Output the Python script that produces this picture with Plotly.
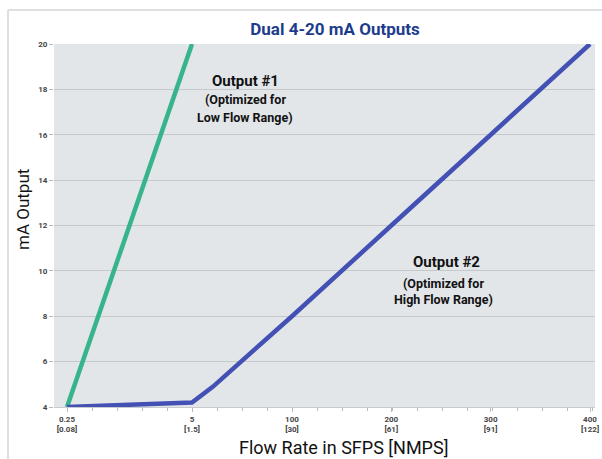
import numpy as np
import plotly.graph_objects as go

# ---- data ----
flow_ticks = [0.25, 5, 100, 200, 300, 400]
tick_labels = ["0.25<br>[0.08]", "5<br>[1.5]", "100<br>[30]", "200<br>[61]", "300<br>[91]", "400<br>[122]"]
y_ticks = [4, 6, 8, 10, 12, 14, 16, 18, 20]

out1_flow = [0.25, 5]
out1_ma = [4, 20]

out2_flow = [0.25, 5, 25, 100, 200, 300, 400]
out2_ma = [4, 4.2, 4.9, 8, 12, 16, 20]

# piecewise (broken) flow scale of the original axis
scale_flow = [0.25, 5, 100, 400]
scale_pos = [0, 1.25, 2.25, 5.23]


def to_pos(v):
    return np.interp(v, scale_flow, scale_pos)


FONT = "Roboto, Liberation Sans, sans-serif"

W, H = 602, 459
ML, MR, MT, MB = 54, 7, 44, 52
PW, PH = W - ML - MR, H - MT - MB


def px(xw):
    return (xw - ML) / PW


def py(yw):
    return (H - MB - yw) / PH


fig = go.Figure()
fig.add_trace(go.Scatter(x=to_pos(out1_flow), y=out1_ma, mode="lines",
                         line=dict(color="#37B48B", width=4.5), hoverinfo="skip"))
fig.add_trace(go.Scatter(x=to_pos(out2_flow), y=out2_ma, mode="lines",
                         line=dict(color="#4251B3", width=4.5), hoverinfo="skip"))

fig.update_layout(
    width=W, height=H,
    margin=dict(l=ML, r=MR, t=MT, b=MB, autoexpand=False),
    paper_bgcolor="white",
    plot_bgcolor="#E3E6E9",
    showlegend=False,
    title=dict(text="<b>Dual 4-20 mA Outputs</b>", x=335 / W, xanchor="center",
               y=1 - 29 / H, yanchor="middle", automargin=False,
               font=dict(family=FONT, size=17, color="#1E3C8C")),
    font=dict(family=FONT),
)

fig.update_xaxes(
    range=[-0.13, 5.28],
    automargin=False,
    tickmode="array",
    tickvals=to_pos(flow_ticks),
    ticktext=tick_labels,
    ticklabeloverflow="allow",
    tickfont=dict(family=FONT, size=8, color="#444444", weight="bold"),
    ticks="outside", ticklen=4, tickcolor="#BBBBBB",
    minor=dict(dtick=0.25, tick0=0, ticks="outside", ticklen=3, tickcolor="#BBBBBB", showgrid=False),
    showgrid=False, zeroline=False,
    showline=True, linecolor="#C8CBCE", linewidth=1,
)

fig.update_yaxes(
    range=[4, 20],
    automargin=False,
    tickmode="array", tickvals=y_ticks,
    tickfont=dict(family=FONT, size=8, color="#444444", weight="bold"),
    ticks="outside", ticklen=4, tickcolor="#BBBBBB",
    showgrid=True, gridcolor="#C6C9CC", gridwidth=1,
    zeroline=False, showline=False,
)

# axis titles (placed as in the original graphic)
fig.add_annotation(text="mA Output", x=px(23), y=py(210), xref="paper", yref="paper",
                   textangle=-90, showarrow=False, xanchor="center", yanchor="middle",
                   font=dict(family=FONT, size=17, color="#111111"))
fig.add_annotation(text="Flow Rate in SFPS [NMPS]", x=px(343), y=py(447),
                   xref="paper", yref="paper", showarrow=False,
                   xanchor="center", yanchor="middle",
                   font=dict(family=FONT, size=18, color="#111111"))

annots = [
    ("<b>Output #1</b>", 245, 81, 15),
    ("<b>(Optimized for</b>", 245, 99, 12.5),
    ("<b>Low Flow Range)</b>", 245, 117, 12.5),
    ("<b>Output #2</b>", 446, 262, 15),
    ("<b>(Optimized for</b>", 443, 283, 12.5),
    ("<b>High Flow Range)</b>", 443, 299, 12.5),
]
for txt, wx, wy, sz in annots:
    fig.add_annotation(text=txt, x=px(wx), y=py(wy), xref="paper", yref="paper",
                       showarrow=False, xanchor="center", yanchor="middle",
                       font=dict(family=FONT, size=sz, color="#111111"))

# outer frame of the original graphic (left and top edges)
frame = dict(color="#DDE0E3", width=2)
fig.add_shape(type="line", xref="paper", yref="paper",
              x0=px(8), x1=px(8), y0=py(459), y1=py(10), line=frame, layer="below")
fig.add_shape(type="line", xref="paper", yref="paper",
              x0=px(8), x1=px(602), y0=py(10), y1=py(10), line=frame, layer="below")

fig.write_html(
    "out.html",
    config={"displayModeBar": False},
    post_script="document.body.style.margin='0px';"
                "document.documentElement.style.overflow='hidden';",
)
